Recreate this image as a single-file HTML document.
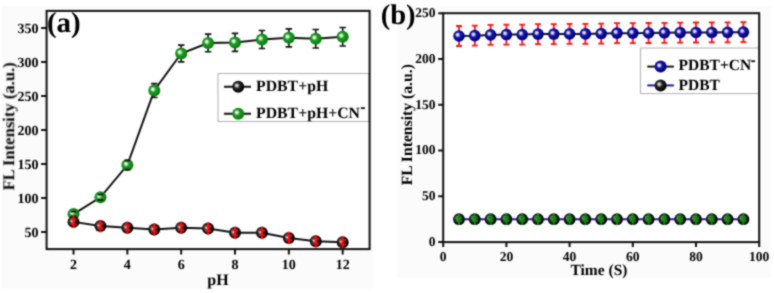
<!DOCTYPE html><html><head><meta charset="utf-8"><style>html,body{margin:0;padding:0;background:#fff;}svg{display:block;text-rendering:geometricPrecision;will-change:transform}</style></head><body>
<svg width="774" height="293" viewBox="0 0 774 293" font-family="'Liberation Serif', serif" font-weight="bold">
<defs>
<radialGradient id="gG" cx="0.45" cy="0.45" r="0.6" fx="0.36" fy="0.38">
<stop offset="0" stop-color="#ffffff"/><stop offset="0.16" stop-color="#d8f0d8"/><stop offset="0.4" stop-color="#23992a"/><stop offset="0.8" stop-color="#08860c"/><stop offset="1" stop-color="#046806"/></radialGradient>
<radialGradient id="gB" cx="0.45" cy="0.45" r="0.6" fx="0.36" fy="0.38">
<stop offset="0" stop-color="#f0f0f0"/><stop offset="0.16" stop-color="#bdbdbd"/><stop offset="0.42" stop-color="#262626"/><stop offset="0.8" stop-color="#050505"/><stop offset="1" stop-color="#000"/></radialGradient>
<radialGradient id="gU" cx="0.45" cy="0.45" r="0.6" fx="0.36" fy="0.38">
<stop offset="0" stop-color="#ffffff"/><stop offset="0.16" stop-color="#d0d0f0"/><stop offset="0.4" stop-color="#1818a6"/><stop offset="0.8" stop-color="#00008c"/><stop offset="1" stop-color="#000064"/></radialGradient>
<filter id="soft" filterUnits="userSpaceOnUse" x="0" y="0" width="774" height="293" color-interpolation-filters="sRGB"><feConvolveMatrix order="3" kernelMatrix="1 2 1 2 8 2 1 2 1" edgeMode="duplicate" preserveAlpha="true"/></filter>
</defs><g filter="url(#soft)"><rect width="774" height="293" fill="#fff"/>
<rect x="1.5" y="6" width="371.5" height="283" fill="#fbfbfb"/><rect x="397.5" y="6" width="373.5" height="272" fill="#fbfbfb"/>
<rect x="46.6" y="10.9" width="323" height="238.2" fill="#fff"/><rect x="443.2" y="13.2" width="316" height="228.9" fill="#fff"/>
<rect x="218" y="73.5" width="151" height="48" fill="none" stroke="#b0b0b0" stroke-width="1"/>
<polyline points="73.52,221.88 100.43,226.10 127.35,227.80 154.27,229.43 181.18,227.73 208.10,228.55 235.02,232.83 261.93,232.83 288.85,237.94 315.77,241.27 342.68,242.23" fill="none" stroke="#111" stroke-width="2"/>
<polyline points="73.52,214.05 100.43,197.31 127.35,165.05 154.27,90.53 181.18,53.50 208.10,42.95 235.02,42.41 261.93,39.55 288.85,37.85 315.77,38.74 342.68,36.76" fill="none" stroke="#111" stroke-width="2"/>
<circle cx="73.52" cy="214.05" r="6.00" fill="url(#gG)"/>
<path d="M73.52 214.05V214.05" stroke="#111" stroke-width="1.50"/><rect x="70.77" y="210.65" width="5.50" height="1.80" fill="#111"/><rect x="70.77" y="215.65" width="5.50" height="1.80" fill="#111"/>
<circle cx="100.43" cy="197.31" r="6.00" fill="url(#gG)"/>
<path d="M100.43 197.31V197.31" stroke="#111" stroke-width="1.50"/><rect x="97.68" y="193.71" width="5.50" height="1.80" fill="#111"/><rect x="97.68" y="199.11" width="5.50" height="1.80" fill="#111"/>
<circle cx="127.35" cy="165.05" r="6.00" fill="url(#gG)"/>
<path d="M127.35 165.05V165.05" stroke="#111" stroke-width="1.50"/><rect x="124.60" y="159.55" width="5.50" height="1.80" fill="#111"/><rect x="124.60" y="168.75" width="5.50" height="1.80" fill="#111"/>
<path d="M154.27 83.63V97.43M151.02 83.63h6.50M151.02 97.43h6.50" stroke="#111" stroke-width="1.60" fill="none"/>
<circle cx="154.27" cy="90.53" r="6.00" fill="url(#gG)"/>
<path d="M181.18 45.10V61.90M177.93 45.10h6.50M177.93 61.90h6.50" stroke="#111" stroke-width="1.60" fill="none"/>
<circle cx="181.18" cy="53.50" r="6.00" fill="url(#gG)"/>
<path d="M208.10 34.15V51.75M204.85 34.15h6.50M204.85 51.75h6.50" stroke="#111" stroke-width="1.60" fill="none"/>
<circle cx="208.10" cy="42.95" r="6.00" fill="url(#gG)"/>
<path d="M235.02 33.41V51.41M231.77 33.41h6.50M231.77 51.41h6.50" stroke="#111" stroke-width="1.60" fill="none"/>
<circle cx="235.02" cy="42.41" r="6.00" fill="url(#gG)"/>
<path d="M261.93 30.55V48.55M258.68 30.55h6.50M258.68 48.55h6.50" stroke="#111" stroke-width="1.60" fill="none"/>
<circle cx="261.93" cy="39.55" r="6.00" fill="url(#gG)"/>
<path d="M288.85 28.85V46.85M285.60 28.85h6.50M285.60 46.85h6.50" stroke="#111" stroke-width="1.60" fill="none"/>
<circle cx="288.85" cy="37.85" r="6.00" fill="url(#gG)"/>
<path d="M315.77 29.54V47.94M312.52 29.54h6.50M312.52 47.94h6.50" stroke="#111" stroke-width="1.60" fill="none"/>
<circle cx="315.77" cy="38.74" r="6.00" fill="url(#gG)"/>
<path d="M342.68 27.56V45.96M339.43 27.56h6.50M339.43 45.96h6.50" stroke="#111" stroke-width="1.60" fill="none"/>
<circle cx="342.68" cy="36.76" r="6.00" fill="url(#gG)"/>
<circle cx="73.52" cy="221.88" r="6.00" fill="url(#gB)"/>
<path d="M73.52 215.68V228.08" stroke="#ff0a0a" stroke-width="1.90"/><rect x="70.42" y="218.58" width="6.20" height="1.80" fill="#ff0a0a"/><rect x="70.42" y="223.38" width="6.20" height="1.80" fill="#ff0a0a"/>
<circle cx="100.43" cy="226.10" r="6.00" fill="url(#gB)"/>
<path d="M100.43 219.90V232.30" stroke="#ff0a0a" stroke-width="1.90"/><rect x="97.33" y="222.80" width="6.20" height="1.80" fill="#ff0a0a"/><rect x="97.33" y="227.60" width="6.20" height="1.80" fill="#ff0a0a"/>
<circle cx="127.35" cy="227.80" r="6.00" fill="url(#gB)"/>
<path d="M127.35 221.60V234.00" stroke="#ff0a0a" stroke-width="1.90"/><rect x="124.25" y="224.50" width="6.20" height="1.80" fill="#ff0a0a"/><rect x="124.25" y="229.30" width="6.20" height="1.80" fill="#ff0a0a"/>
<circle cx="154.27" cy="229.43" r="6.00" fill="url(#gB)"/>
<path d="M154.27 223.23V235.63" stroke="#ff0a0a" stroke-width="1.90"/><rect x="151.17" y="226.13" width="6.20" height="1.80" fill="#ff0a0a"/><rect x="151.17" y="230.93" width="6.20" height="1.80" fill="#ff0a0a"/>
<circle cx="181.18" cy="227.73" r="6.00" fill="url(#gB)"/>
<path d="M181.18 221.53V233.93" stroke="#ff0a0a" stroke-width="1.90"/><rect x="178.08" y="224.43" width="6.20" height="1.80" fill="#ff0a0a"/><rect x="178.08" y="229.23" width="6.20" height="1.80" fill="#ff0a0a"/>
<circle cx="208.10" cy="228.55" r="6.00" fill="url(#gB)"/>
<path d="M208.10 222.35V234.75" stroke="#ff0a0a" stroke-width="1.90"/><rect x="205.00" y="225.25" width="6.20" height="1.80" fill="#ff0a0a"/><rect x="205.00" y="230.05" width="6.20" height="1.80" fill="#ff0a0a"/>
<circle cx="235.02" cy="232.83" r="6.00" fill="url(#gB)"/>
<path d="M235.02 226.63V239.03" stroke="#ff0a0a" stroke-width="1.90"/><rect x="231.92" y="229.53" width="6.20" height="1.80" fill="#ff0a0a"/><rect x="231.92" y="234.33" width="6.20" height="1.80" fill="#ff0a0a"/>
<circle cx="261.93" cy="232.83" r="6.00" fill="url(#gB)"/>
<path d="M261.93 226.63V239.03" stroke="#ff0a0a" stroke-width="1.90"/><rect x="258.83" y="229.53" width="6.20" height="1.80" fill="#ff0a0a"/><rect x="258.83" y="234.33" width="6.20" height="1.80" fill="#ff0a0a"/>
<circle cx="288.85" cy="237.94" r="6.00" fill="url(#gB)"/>
<path d="M288.85 231.74V244.14" stroke="#ff0a0a" stroke-width="1.90"/><rect x="285.75" y="234.64" width="6.20" height="1.80" fill="#ff0a0a"/><rect x="285.75" y="239.44" width="6.20" height="1.80" fill="#ff0a0a"/>
<circle cx="315.77" cy="241.27" r="6.00" fill="url(#gB)"/>
<path d="M315.77 235.07V247.47" stroke="#ff0a0a" stroke-width="1.90"/><rect x="312.67" y="237.97" width="6.20" height="1.80" fill="#ff0a0a"/><rect x="312.67" y="242.77" width="6.20" height="1.80" fill="#ff0a0a"/>
<circle cx="342.68" cy="242.23" r="6.00" fill="url(#gB)"/>
<path d="M342.68 236.03V248.43" stroke="#ff0a0a" stroke-width="1.90"/><rect x="339.58" y="238.93" width="6.20" height="1.80" fill="#ff0a0a"/><rect x="339.58" y="243.73" width="6.20" height="1.80" fill="#ff0a0a"/>
<rect x="46.60" y="10.90" width="323.00" height="238.20" fill="none" stroke="#111" stroke-width="2"/>
<path d="M73.52 249.10v5.5M127.35 249.10v5.5M181.18 249.10v5.5M235.02 249.10v5.5M288.85 249.10v5.5M342.68 249.10v5.5M46.60 232.09h-5.5M46.60 198.06h-5.5M46.60 164.03h-5.5M46.60 130.00h-5.5M46.60 95.97h-5.5M46.60 61.94h-5.5M46.60 27.91h-5.5" stroke="#111" stroke-width="2" fill="none"/>
<text x="73.52" y="268.6" font-size="14" text-anchor="middle">2</text>
<text x="127.35" y="268.6" font-size="14" text-anchor="middle">4</text>
<text x="181.18" y="268.6" font-size="14" text-anchor="middle">6</text>
<text x="235.02" y="268.6" font-size="14" text-anchor="middle">8</text>
<text x="288.85" y="268.6" font-size="14" text-anchor="middle">10</text>
<text x="342.68" y="268.6" font-size="14" text-anchor="middle">12</text>
<text x="38.6" y="236.69" font-size="14" text-anchor="end">50</text>
<text x="38.6" y="202.66" font-size="14" text-anchor="end">100</text>
<text x="38.6" y="168.63" font-size="14" text-anchor="end">150</text>
<text x="38.6" y="134.60" font-size="14" text-anchor="end">200</text>
<text x="38.6" y="100.57" font-size="14" text-anchor="end">250</text>
<text x="38.6" y="66.54" font-size="14" text-anchor="end">300</text>
<text x="38.6" y="32.51" font-size="14" text-anchor="end">350</text>
<text x="218" y="284.5" font-size="16" text-anchor="middle">pH</text>
<text transform="translate(14.2,126.4) rotate(-90)" font-size="16.6" text-anchor="middle">FL Intensity (a.u.)</text>
<text x="46.9" y="32.3" font-size="29">(a)</text>
<path d="M224 86.7h27M224 113.7h27" stroke="#111" stroke-width="2"/>
<circle cx="238.20" cy="86.70" r="6.00" fill="url(#gB)"/>
<circle cx="238.20" cy="113.70" r="6.00" fill="url(#gG)"/>
<text x="256" y="91" font-size="15.8">PDBT+pH</text>
<text x="256" y="118" font-size="15.8">PDBT+pH+CN</text><rect x="360.9" y="107.2" width="4" height="1.8" fill="#111"/>
<rect x="640.5" y="48" width="119" height="45.6" fill="none" stroke="#b0b0b0" stroke-width="1"/>
<polyline points="459.00,36.00 474.80,35.63 490.60,34.90 506.40,34.53 522.20,34.53 538.00,34.08 553.80,34.08 569.60,33.89 585.40,33.89 601.20,33.53 617.00,33.16 632.80,33.16 648.60,32.98 664.40,32.79 680.20,32.61 696.00,32.52 711.80,32.43 727.60,32.34 743.40,32.15" fill="none" stroke="#111" stroke-width="2"/>
<polyline points="459.00,219.21 474.80,219.21 490.60,219.21 506.40,219.21 522.20,219.21 538.00,219.21 553.80,219.21 569.60,219.21 585.40,219.21 601.20,219.21 617.00,219.21 632.80,219.21 648.60,219.21 664.40,219.21 680.20,219.21 696.00,219.21 711.80,219.21 727.60,219.21 743.40,219.21" fill="none" stroke="#1c1c98" stroke-width="2"/>
<path d="M459.00 26.00V46.00M456.00 26.00h6.00M456.00 46.00h6.00" stroke="#ff1010" stroke-width="1.80" fill="none"/>
<circle cx="459.00" cy="36.00" r="5.80" fill="url(#gU)"/>
<path d="M474.80 25.63V45.63M471.80 25.63h6.00M471.80 45.63h6.00" stroke="#ff1010" stroke-width="1.80" fill="none"/>
<circle cx="474.80" cy="35.63" r="5.80" fill="url(#gU)"/>
<path d="M490.60 24.90V44.90M487.60 24.90h6.00M487.60 44.90h6.00" stroke="#ff1010" stroke-width="1.80" fill="none"/>
<circle cx="490.60" cy="34.90" r="5.80" fill="url(#gU)"/>
<path d="M506.40 24.53V44.53M503.40 24.53h6.00M503.40 44.53h6.00" stroke="#ff1010" stroke-width="1.80" fill="none"/>
<circle cx="506.40" cy="34.53" r="5.80" fill="url(#gU)"/>
<path d="M522.20 24.53V44.53M519.20 24.53h6.00M519.20 44.53h6.00" stroke="#ff1010" stroke-width="1.80" fill="none"/>
<circle cx="522.20" cy="34.53" r="5.80" fill="url(#gU)"/>
<path d="M538.00 24.08V44.08M535.00 24.08h6.00M535.00 44.08h6.00" stroke="#ff1010" stroke-width="1.80" fill="none"/>
<circle cx="538.00" cy="34.08" r="5.80" fill="url(#gU)"/>
<path d="M553.80 24.08V44.08M550.80 24.08h6.00M550.80 44.08h6.00" stroke="#ff1010" stroke-width="1.80" fill="none"/>
<circle cx="553.80" cy="34.08" r="5.80" fill="url(#gU)"/>
<path d="M569.60 23.89V43.89M566.60 23.89h6.00M566.60 43.89h6.00" stroke="#ff1010" stroke-width="1.80" fill="none"/>
<circle cx="569.60" cy="33.89" r="5.80" fill="url(#gU)"/>
<path d="M585.40 23.89V43.89M582.40 23.89h6.00M582.40 43.89h6.00" stroke="#ff1010" stroke-width="1.80" fill="none"/>
<circle cx="585.40" cy="33.89" r="5.80" fill="url(#gU)"/>
<path d="M601.20 23.53V43.53M598.20 23.53h6.00M598.20 43.53h6.00" stroke="#ff1010" stroke-width="1.80" fill="none"/>
<circle cx="601.20" cy="33.53" r="5.80" fill="url(#gU)"/>
<path d="M617.00 23.16V43.16M614.00 23.16h6.00M614.00 43.16h6.00" stroke="#ff1010" stroke-width="1.80" fill="none"/>
<circle cx="617.00" cy="33.16" r="5.80" fill="url(#gU)"/>
<path d="M632.80 23.16V43.16M629.80 23.16h6.00M629.80 43.16h6.00" stroke="#ff1010" stroke-width="1.80" fill="none"/>
<circle cx="632.80" cy="33.16" r="5.80" fill="url(#gU)"/>
<path d="M648.60 22.98V42.98M645.60 22.98h6.00M645.60 42.98h6.00" stroke="#ff1010" stroke-width="1.80" fill="none"/>
<circle cx="648.60" cy="32.98" r="5.80" fill="url(#gU)"/>
<path d="M664.40 22.79V42.79M661.40 22.79h6.00M661.40 42.79h6.00" stroke="#ff1010" stroke-width="1.80" fill="none"/>
<circle cx="664.40" cy="32.79" r="5.80" fill="url(#gU)"/>
<path d="M680.20 22.61V42.61M677.20 22.61h6.00M677.20 42.61h6.00" stroke="#ff1010" stroke-width="1.80" fill="none"/>
<circle cx="680.20" cy="32.61" r="5.80" fill="url(#gU)"/>
<path d="M696.00 22.52V42.52M693.00 22.52h6.00M693.00 42.52h6.00" stroke="#ff1010" stroke-width="1.80" fill="none"/>
<circle cx="696.00" cy="32.52" r="5.80" fill="url(#gU)"/>
<path d="M711.80 22.43V42.43M708.80 22.43h6.00M708.80 42.43h6.00" stroke="#ff1010" stroke-width="1.80" fill="none"/>
<circle cx="711.80" cy="32.43" r="5.80" fill="url(#gU)"/>
<path d="M727.60 22.34V42.34M724.60 22.34h6.00M724.60 42.34h6.00" stroke="#ff1010" stroke-width="1.80" fill="none"/>
<circle cx="727.60" cy="32.34" r="5.80" fill="url(#gU)"/>
<path d="M743.40 22.15V42.15M740.40 22.15h6.00M740.40 42.15h6.00" stroke="#ff1010" stroke-width="1.80" fill="none"/>
<circle cx="743.40" cy="32.15" r="5.80" fill="url(#gU)"/>
<circle cx="459.00" cy="219.21" r="5.90" fill="url(#gB)"/>
<path d="M459.00 213.61V224.81" stroke="#0c8c0c" stroke-width="2.00"/><rect x="456.20" y="216.51" width="5.60" height="2.40" fill="#0c8c0c"/><rect x="456.20" y="219.51" width="5.60" height="2.40" fill="#0c8c0c"/>
<circle cx="474.80" cy="219.21" r="5.90" fill="url(#gB)"/>
<path d="M474.80 213.61V224.81" stroke="#0c8c0c" stroke-width="2.00"/><rect x="472.00" y="216.51" width="5.60" height="2.40" fill="#0c8c0c"/><rect x="472.00" y="219.51" width="5.60" height="2.40" fill="#0c8c0c"/>
<circle cx="490.60" cy="219.21" r="5.90" fill="url(#gB)"/>
<path d="M490.60 213.61V224.81" stroke="#0c8c0c" stroke-width="2.00"/><rect x="487.80" y="216.51" width="5.60" height="2.40" fill="#0c8c0c"/><rect x="487.80" y="219.51" width="5.60" height="2.40" fill="#0c8c0c"/>
<circle cx="506.40" cy="219.21" r="5.90" fill="url(#gB)"/>
<path d="M506.40 213.61V224.81" stroke="#0c8c0c" stroke-width="2.00"/><rect x="503.60" y="216.51" width="5.60" height="2.40" fill="#0c8c0c"/><rect x="503.60" y="219.51" width="5.60" height="2.40" fill="#0c8c0c"/>
<circle cx="522.20" cy="219.21" r="5.90" fill="url(#gB)"/>
<path d="M522.20 213.61V224.81" stroke="#0c8c0c" stroke-width="2.00"/><rect x="519.40" y="216.51" width="5.60" height="2.40" fill="#0c8c0c"/><rect x="519.40" y="219.51" width="5.60" height="2.40" fill="#0c8c0c"/>
<circle cx="538.00" cy="219.21" r="5.90" fill="url(#gB)"/>
<path d="M538.00 213.61V224.81" stroke="#0c8c0c" stroke-width="2.00"/><rect x="535.20" y="216.51" width="5.60" height="2.40" fill="#0c8c0c"/><rect x="535.20" y="219.51" width="5.60" height="2.40" fill="#0c8c0c"/>
<circle cx="553.80" cy="219.21" r="5.90" fill="url(#gB)"/>
<path d="M553.80 213.61V224.81" stroke="#0c8c0c" stroke-width="2.00"/><rect x="551.00" y="216.51" width="5.60" height="2.40" fill="#0c8c0c"/><rect x="551.00" y="219.51" width="5.60" height="2.40" fill="#0c8c0c"/>
<circle cx="569.60" cy="219.21" r="5.90" fill="url(#gB)"/>
<path d="M569.60 213.61V224.81" stroke="#0c8c0c" stroke-width="2.00"/><rect x="566.80" y="216.51" width="5.60" height="2.40" fill="#0c8c0c"/><rect x="566.80" y="219.51" width="5.60" height="2.40" fill="#0c8c0c"/>
<circle cx="585.40" cy="219.21" r="5.90" fill="url(#gB)"/>
<path d="M585.40 213.61V224.81" stroke="#0c8c0c" stroke-width="2.00"/><rect x="582.60" y="216.51" width="5.60" height="2.40" fill="#0c8c0c"/><rect x="582.60" y="219.51" width="5.60" height="2.40" fill="#0c8c0c"/>
<circle cx="601.20" cy="219.21" r="5.90" fill="url(#gB)"/>
<path d="M601.20 213.61V224.81" stroke="#0c8c0c" stroke-width="2.00"/><rect x="598.40" y="216.51" width="5.60" height="2.40" fill="#0c8c0c"/><rect x="598.40" y="219.51" width="5.60" height="2.40" fill="#0c8c0c"/>
<circle cx="617.00" cy="219.21" r="5.90" fill="url(#gB)"/>
<path d="M617.00 213.61V224.81" stroke="#0c8c0c" stroke-width="2.00"/><rect x="614.20" y="216.51" width="5.60" height="2.40" fill="#0c8c0c"/><rect x="614.20" y="219.51" width="5.60" height="2.40" fill="#0c8c0c"/>
<circle cx="632.80" cy="219.21" r="5.90" fill="url(#gB)"/>
<path d="M632.80 213.61V224.81" stroke="#0c8c0c" stroke-width="2.00"/><rect x="630.00" y="216.51" width="5.60" height="2.40" fill="#0c8c0c"/><rect x="630.00" y="219.51" width="5.60" height="2.40" fill="#0c8c0c"/>
<circle cx="648.60" cy="219.21" r="5.90" fill="url(#gB)"/>
<path d="M648.60 213.61V224.81" stroke="#0c8c0c" stroke-width="2.00"/><rect x="645.80" y="216.51" width="5.60" height="2.40" fill="#0c8c0c"/><rect x="645.80" y="219.51" width="5.60" height="2.40" fill="#0c8c0c"/>
<circle cx="664.40" cy="219.21" r="5.90" fill="url(#gB)"/>
<path d="M664.40 213.61V224.81" stroke="#0c8c0c" stroke-width="2.00"/><rect x="661.60" y="216.51" width="5.60" height="2.40" fill="#0c8c0c"/><rect x="661.60" y="219.51" width="5.60" height="2.40" fill="#0c8c0c"/>
<circle cx="680.20" cy="219.21" r="5.90" fill="url(#gB)"/>
<path d="M680.20 213.61V224.81" stroke="#0c8c0c" stroke-width="2.00"/><rect x="677.40" y="216.51" width="5.60" height="2.40" fill="#0c8c0c"/><rect x="677.40" y="219.51" width="5.60" height="2.40" fill="#0c8c0c"/>
<circle cx="696.00" cy="219.21" r="5.90" fill="url(#gB)"/>
<path d="M696.00 213.61V224.81" stroke="#0c8c0c" stroke-width="2.00"/><rect x="693.20" y="216.51" width="5.60" height="2.40" fill="#0c8c0c"/><rect x="693.20" y="219.51" width="5.60" height="2.40" fill="#0c8c0c"/>
<circle cx="711.80" cy="219.21" r="5.90" fill="url(#gB)"/>
<path d="M711.80 213.61V224.81" stroke="#0c8c0c" stroke-width="2.00"/><rect x="709.00" y="216.51" width="5.60" height="2.40" fill="#0c8c0c"/><rect x="709.00" y="219.51" width="5.60" height="2.40" fill="#0c8c0c"/>
<circle cx="727.60" cy="219.21" r="5.90" fill="url(#gB)"/>
<path d="M727.60 213.61V224.81" stroke="#0c8c0c" stroke-width="2.00"/><rect x="724.80" y="216.51" width="5.60" height="2.40" fill="#0c8c0c"/><rect x="724.80" y="219.51" width="5.60" height="2.40" fill="#0c8c0c"/>
<circle cx="743.40" cy="219.21" r="5.90" fill="url(#gB)"/>
<path d="M743.40 213.61V224.81" stroke="#0c8c0c" stroke-width="2.00"/><rect x="740.60" y="216.51" width="5.60" height="2.40" fill="#0c8c0c"/><rect x="740.60" y="219.51" width="5.60" height="2.40" fill="#0c8c0c"/>
<rect x="443.20" y="13.20" width="316.00" height="228.90" fill="none" stroke="#111" stroke-width="2"/>
<path d="M443.20 242.10v5M506.40 242.10v5M569.60 242.10v5M632.80 242.10v5M696.00 242.10v5M759.20 242.10v5M443.20 242.10h-5M443.20 196.32h-5M443.20 150.54h-5M443.20 104.76h-5M443.20 58.98h-5M443.20 13.20h-5" stroke="#111" stroke-width="2" fill="none"/>
<text x="443.20" y="260.5" font-size="13.5" text-anchor="middle">0</text>
<text x="506.40" y="260.5" font-size="13.5" text-anchor="middle">20</text>
<text x="569.60" y="260.5" font-size="13.5" text-anchor="middle">40</text>
<text x="632.80" y="260.5" font-size="13.5" text-anchor="middle">60</text>
<text x="696.00" y="260.5" font-size="13.5" text-anchor="middle">80</text>
<text x="759.20" y="260.5" font-size="13.5" text-anchor="middle">100</text>
<text x="435.5" y="245.90" font-size="13.5" text-anchor="end">0</text>
<text x="435.5" y="200.12" font-size="13.5" text-anchor="end">50</text>
<text x="435.5" y="154.34" font-size="13.5" text-anchor="end">100</text>
<text x="435.5" y="108.56" font-size="13.5" text-anchor="end">150</text>
<text x="435.5" y="62.78" font-size="13.5" text-anchor="end">200</text>
<text x="435.5" y="17.00" font-size="13.5" text-anchor="end">250</text>
<text x="599" y="275" font-size="15.5" text-anchor="middle">Time (S)</text>
<text transform="translate(412,124.7) rotate(-90)" font-size="15.7" text-anchor="middle">FL Intensity (a.u.)</text>
<text x="380.7" y="23.7" font-size="28.6">(b)</text>
<path d="M647.3 66.6h26.6" stroke="#111" stroke-width="2"/><path d="M647.3 85.4h26.6" stroke="#1c1c98" stroke-width="2"/>
<circle cx="660.60" cy="66.60" r="6.00" fill="url(#gU)"/>
<circle cx="660.60" cy="85.40" r="6.00" fill="url(#gB)"/>
<text x="678.6" y="69.9" font-size="15.5">PDBT+CN</text><rect x="751.2" y="60.3" width="3.8" height="1.8" fill="#111"/>
<text x="678.6" y="89.6" font-size="15.5">PDBT</text>
</g></svg></body></html>
